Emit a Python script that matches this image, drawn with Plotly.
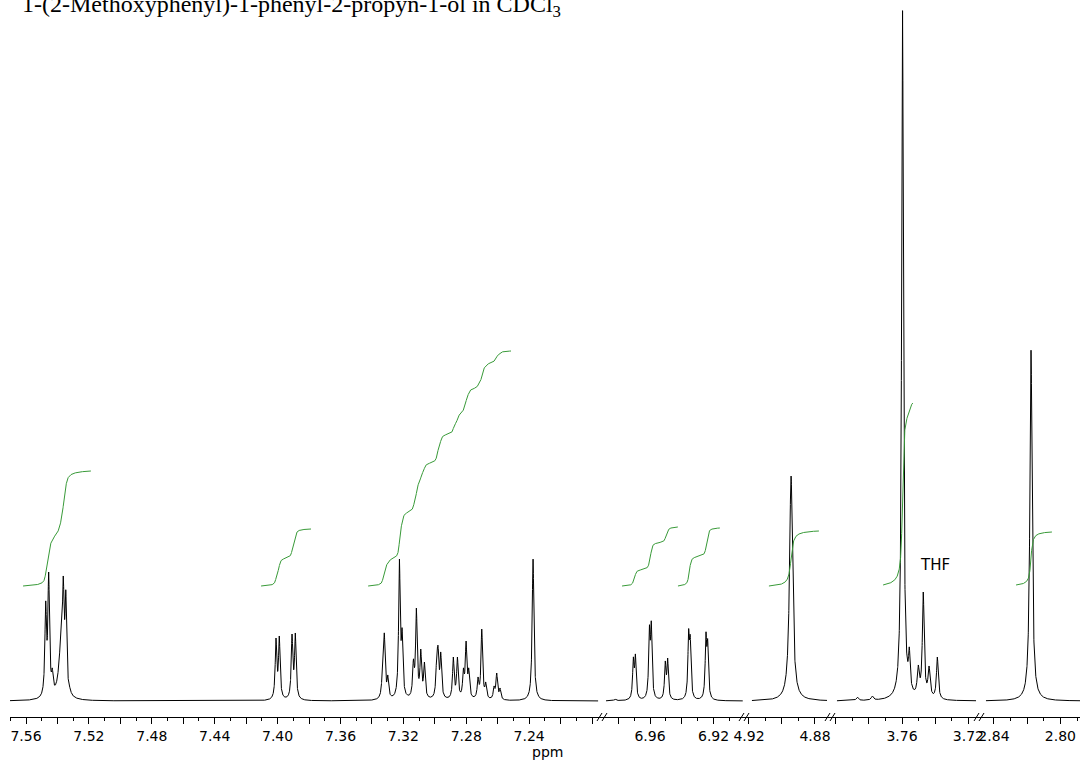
import numpy as np
import plotly.graph_objects as go

# ---------------- spectrum data: peak lists (ppm, height above baseline, FWHM in ppm) ----------------
# aromatic multiplet 7.55-7.53
grpA_ppm = [7.5475, 7.5456, 7.5433, 7.5377, 7.5363, 7.5347, 7.5320]
grpA_int = [100, 129, 33, 68, 125, 111, 13]
grpA_fwhm = [0.0012, 0.0012, 0.0012, 0.0035, 0.0012, 0.0012, 0.0012]

# aromatic doublet of doublets ~7.40
grpB_ppm = [7.4010, 7.3989, 7.3908, 7.3887]
grpB_int = [63, 65, 67, 68]
grpB_fwhm = [0.0012, 0.0012, 0.0012, 0.0012]

# aromatic multiplet 7.34-7.26
grpC_ppm = [7.3331, 7.3321, 7.3299, 7.3225, 7.3208, 7.3136, 7.3117, 7.3089, 7.3066,
            7.2987, 7.2979, 7.2962, 7.2882, 7.2856, 7.2818, 7.2801, 7.2784,
            7.2725, 7.2701, 7.2676, 7.2623, 7.2606, 7.2585]
grpC_int = [45, 68, 26, 142, 73, 42, 93, 52, 39,
            52, 55, 49, 44, 44, 33, 60, 33,
            24, 72, 19, 15, 28, 13]
grpC_fwhm = [0.0012] * 23

# residual CHCl3
chcl3_ppm = [7.2375]
chcl3_int = [142]
chcl3_fwhm = [0.0013]

# 2-methoxyphenyl H5 / H3 region
grpD_ppm = [6.9820, 6.9705, 6.9692, 6.9604, 6.9592, 6.9504, 6.9489, 6.9357, 6.9347, 6.9248, 6.9237]
grpD_int = [2, 44, 47, 76, 80, 40, 43, 72, 66, 69, 62]
grpD_fwhm = [0.0015, 0.0011, 0.0011, 0.0011, 0.0011, 0.0011, 0.0011, 0.0011, 0.0011, 0.0011, 0.0011]

# OH singlet
grpE_ppm = [4.8945, 4.8818]
grpE_int = [225, 2]
grpE_fwhm = [0.0022, 0.0020]

# OCH3 singlet with THF multiplet
grpF_ppm = [3.7869, 3.7779, 3.7622, 3.7597, 3.7556, 3.7502, 3.7472, 3.7437, 3.7387]
grpF_int = [4, 5, 40, 691, 54, 36, 109, 35, 44]
grpF_fwhm = [0.0015, 0.0015, 0.0015, 0.0013, 0.0012, 0.0015, 0.0013, 0.0015, 0.0013]

# alkyne C-H singlet
grpG_ppm = [2.8177]
grpG_int = [351]
grpG_fwhm = [0.0016]

# integral regions: ppm limits, curve level at start and end, segment index
int_hi = [7.5619, 7.4105, 7.3424, 6.9776, 6.9424, 4.9079, 3.7714, 2.8267]
int_lo = [7.5187, 7.3787, 7.2515, 6.9424, 6.9160, 4.8776, 3.7534, 2.8051]
int_start = [115, 115, 115, 115, 115, 115, 116, 116]
int_end = [230, 172, 350, 174, 173, 170, 298, 169]
int_seg = [0, 0, 0, 1, 1, 2, 3, 4]

# axis tick labels of each segment
tick_labels = [
    ["7.56", "7.52", "7.48", "7.44", "7.40", "7.36", "7.32", "7.28", "7.24"],
    ["6.96", "6.92"],
    ["4.92", "4.88"],
    ["3.76", "3.72"],
    ["2.84", "2.80"],
]

# ---------------- layout geometry ----------------
W, H = 1082, 764
MT, MB = 10, 47
seg_domain_px = [(10, 603), (603, 745), (745, 831), (831, 980), (980, 1080)]
seg_range = [(7.5702, 7.1930), (6.9896, 6.9002), (4.9224, 4.8703), (3.8028, 3.7130), (2.8484, 2.7882)]
seg_data = [(7.5702, 7.1961), (6.9877, 6.9016), (4.9182, 4.8727), (3.7992, 3.7154), (2.8448, 2.7882)]
Y_RANGE = (-16, 691)

seg_peaks = [
    (grpA_ppm + grpB_ppm + grpC_ppm + chcl3_ppm,
     grpA_int + grpB_int + grpC_int + chcl3_int,
     grpA_fwhm + grpB_fwhm + grpC_fwhm + chcl3_fwhm),
    (grpD_ppm, grpD_int, grpD_fwhm),
    (grpE_ppm, grpE_int, grpE_fwhm),
    (grpF_ppm, grpF_int, grpF_fwhm),
    (grpG_ppm, grpG_int, grpG_fwhm),
]

BLACK = "#000000"
GREEN = "#389a38"
SANS = "DejaVu Sans, Verdana, sans-serif"


def lorentz_matrix(x, centers, fwhm):
    g = np.asarray(fwhm)[None, :] / 2.0
    d = np.asarray(x)[:, None] - np.asarray(centers)[None, :]
    return g ** 2 / (d ** 2 + g ** 2)


def fit_amplitudes(centers, heights, fwhm):
    """Amplitudes so that the summed line shape reaches each listed height."""
    target = np.asarray(heights, float)
    m = lorentz_matrix(centers, centers, fwhm)
    amp = target.copy()
    for _ in range(400):
        cur = m @ amp
        amp = amp * target / np.maximum(cur, 1e-9)
    return amp


def spectrum(x, centers, amps, fwhm):
    return lorentz_matrix(x, centers, fwhm) @ amps


fig = go.Figure()
axis_names = ["x", "x2", "x3", "x4", "x5"]
seg_models = []

for i, (cen, hts, fw) in enumerate(seg_peaks):
    amps = fit_amplitudes(cen, hts, fw)
    seg_models.append((cen, amps, fw))
    hi, lo = seg_data[i]
    xs = np.arange(hi, lo, -0.00004)
    ys = spectrum(xs, cen, amps, fw)
    fig.add_trace(go.Scatter(x=xs, y=ys, mode="lines", xaxis=axis_names[i], yaxis="y",
                             line=dict(color=BLACK, width=1), hoverinfo="skip"))

# integral curves
for k in range(len(int_hi)):
    s = int_seg[k]
    cen, amps, fw = seg_models[s]
    xs = np.arange(int_hi[k], int_lo[k], -0.00004)
    ys = spectrum(xs, cen, amps, fw)
    cum = np.cumsum(ys)
    cum = cum / cum[-1]
    curve = int_start[k] + (int_end[k] - int_start[k]) * cum
    fig.add_trace(go.Scatter(x=xs, y=curve, mode="lines", xaxis=axis_names[s], yaxis="y",
                             line=dict(color=GREEN, width=1), hoverinfo="skip"))

layout = dict(
    template="none",
    width=W, height=H,
    margin=dict(l=0, r=0, t=MT, b=MB, pad=0, autoexpand=False),
    paper_bgcolor="white", plot_bgcolor="white",
    showlegend=False,
    yaxis=dict(range=list(Y_RANGE), visible=False, fixedrange=True, domain=[0, 1],
               automargin=False),
)

for i in range(5):
    hi, lo = seg_range[i]
    first = np.ceil(lo / 0.02 - 1e-9) * 0.02
    vals = [round(v, 2) for v in np.arange(first, hi + 1e-9, 0.02)]
    texts = [f"{v:.2f}" if f"{v:.2f}" in tick_labels[i] else "" for v in vals]
    l_px, r_px = seg_domain_px[i]
    key = "xaxis" if i == 0 else f"xaxis{i + 1}"
    layout[key] = dict(
        domain=[l_px / W, r_px / W],
        range=[hi, lo],
        anchor="y",
        automargin=False,
        showline=True, linecolor=BLACK, linewidth=1,
        showgrid=False, zeroline=False,
        ticks="outside", ticklen=6, tickwidth=1, tickcolor=BLACK,
        tickmode="array", tickvals=vals, ticktext=texts,
        tickfont=dict(family=SANS, size=14, color=BLACK),
        minor=dict(tickmode="linear", tick0=0, dtick=0.01, ticks="outside",
                   ticklen=3, tickwidth=1, tickcolor=BLACK, showgrid=False),
        fixedrange=True,
    )

fig.update_layout(**layout)


def py(ypix):
    """pixel row -> paper y"""
    return (H - MB - ypix) / (H - MT - MB)


# axis break marks "//"
shapes = []
for b in [seg_domain_px[i][1] for i in range(4)]:
    for k in range(2):
        x0 = b - 6 + 5 * k
        shapes.append(dict(type="line", xref="paper", yref="paper",
                           x0=x0 / W, x1=(x0 + 5) / W, y0=py(721), y1=py(713),
                           line=dict(color=BLACK, width=1)))
fig.update_layout(shapes=shapes)

annotations = [
    dict(text="1-(2-Methoxyphenyl)-1-phenyl-2-propyn-1-ol in CDCl<sub>3</sub>",
         xref="paper", yref="paper", x=20 / W, y=py(6), xanchor="left", yanchor="middle",
         showarrow=False,
         font=dict(family="Liberation Serif, Times New Roman, serif", size=24, color=BLACK)),
    dict(text="ppm", xref="paper", yref="paper", x=547 / W, y=py(752),
         xanchor="center", yanchor="middle", showarrow=False,
         font=dict(family=SANS, size=14, color=BLACK)),
    dict(text="THF", xref="x4", yref="y", x=3.7401, y=136,
         xanchor="center", yanchor="middle", showarrow=False,
         font=dict(family=SANS, size=15, color=BLACK)),
]
fig.update_layout(annotations=annotations)

fig.write_html("out.html", include_plotlyjs=True, config={"displayModeBar": False})
